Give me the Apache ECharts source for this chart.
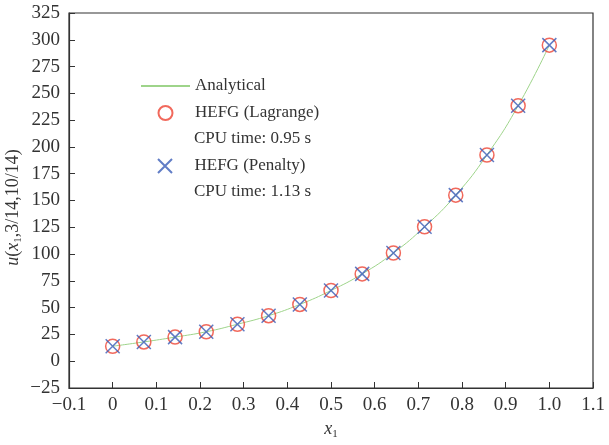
<!DOCTYPE html>
<html>
<head>
<meta charset="utf-8">
<script src="https://cdn.jsdelivr.net/npm/echarts@6/dist/echarts.min.js"></script>
<style>
	html, body { margin: 0; padding: 0; background: #fff; }
	#main { width: 609px; height: 445px; }
</style>
</head>
<body>
<div id="main"></div>
<script>
// x1 sample points (k/14) and u values
const xPoints = [0, 0.0714, 0.1429, 0.2143, 0.2857, 0.3571, 0.4286, 0.5, 0.5714, 0.6429, 0.7143, 0.7857, 0.8571, 0.9286, 1.0]
const analytical = [14, 18, 22.5, 27.5, 34.5, 42.5, 53, 66, 81.5, 101, 125.5, 155, 192.5, 238.5, 295]
const lagrange = [14, 18, 22.5, 27.5, 34.5, 42.5, 53, 66, 81.5, 101, 125.5, 155, 192.5, 238.5, 295]
const penalty = [14, 18, 22.5, 27.5, 34.5, 42.5, 53, 66, 81.5, 101, 125.5, 155, 192.5, 238.5, 295]
const cpuTimes = ['CPU time: 0.95 s', 'CPU time: 1.13 s']

const pairs = ys => xPoints.map((x, i) => [x, ys[i]])
const minus = s => s.replace('-', '\u2212')
const font = 'Liberation Serif'
const crossPath = 'path://M0,0L10,10M10,0L0,10'

const chart = echarts.init(document.getElementById('main'))

const nameRich = {
	i: { fontFamily: font, fontStyle: 'italic', fontSize: 18, color: '#333' },
	s: { fontFamily: font, fontSize: 11, color: '#333', verticalAlign: 'bottom', padding: [10, 0, 0, 0] },
}

const option = {
	animation: false,
	textStyle: { fontFamily: font },
	grid: {
		left: 69, right: 16, top: 13, bottom: 57,
		outerBoundsMode: 'none', containLabel: false,
		show: true, borderColor: '#333', borderWidth: 1.2,
	},
	legend: [
		{
			orient: 'vertical', left: 140, top: 76, padding: 0,
			itemWidth: 49, itemHeight: 14, itemGap: 7,
			textStyle: { fontFamily: font, fontSize: 17, color: '#333', lineHeight: 20 },
			data: [
				{ name: 'Analytical', itemStyle: { color: 'rgba(0,0,0,0)', borderWidth: 0 } },
				'HEFG (Lagrange)',
			],
		},
		{
			orient: 'vertical', left: 157, top: 156, padding: 0,
			itemWidth: 49, itemHeight: 14,
			textStyle: { fontFamily: font, fontSize: 17, color: '#333', lineHeight: 20 },
			data: ['HEFG (Penalty)'],
		},
	],
	graphic: cpuTimes.map((t, i) => ({
		type: 'text', left: 194, top: [130, 183][i],
		style: { text: t, font: '17px "Liberation Serif"', fill: '#333' },
	})),
	xAxis: {
		type: 'value', min: -0.1, max: 1.1, interval: 0.1,
		name: '{i|x}{s|1}', nameLocation: 'middle', nameGap: 30,
		nameTextStyle: { rich: nameRich },
		axisLine: { onZero: false, lineStyle: { color: '#333', width: 1.2 } },
		axisTick: { inside: true, length: 6, lineStyle: { color: '#333' } },
		splitLine: { show: false },
		axisLabel: {
			fontFamily: font, fontSize: 19, color: '#333', margin: 8,
			formatter: v => Math.abs(v) < 1e-9 ? '0' : minus(v.toFixed(1)),
		},
	},
	yAxis: {
		type: 'value', min: -25, max: 325, interval: 25,
		name: '{i|u}{n|(}{i|x}{s|1}{n|,3/14,10/14)}', nameLocation: 'middle', nameGap: 45,
		nameMoveOverlap: false,
		nameTextStyle: {
			padding: [0, 14, 0, 0],
			rich: Object.assign({ n: { fontFamily: font, fontSize: 18, color: '#333' } }, nameRich),
		},
		axisLine: { onZero: false, lineStyle: { color: '#333', width: 1.2 } },
		axisTick: { inside: true, length: 6, lineStyle: { color: '#333' } },
		splitLine: { show: false },
		axisLabel: {
			fontFamily: font, fontSize: 19, color: '#333', margin: 9,
			formatter: v => minus(String(v)),
		},
	},
	series: [
		{
			name: 'Analytical', type: 'line', smooth: true, symbol: 'none',
			data: pairs(analytical),
			lineStyle: { color: '#9ed48a', width: 1 },
			itemStyle: { color: '#9ed48a' },
			z: 1,
		},
		{
			name: 'HEFG (Lagrange)', type: 'scatter', symbol: 'circle', symbolSize: 14,
			data: pairs(lagrange),
			itemStyle: { color: 'rgba(0,0,0,0)', borderColor: '#ee4433', borderWidth: 1.5 },
			z: 2,
		},
		{
			name: 'HEFG (Penalty)', type: 'scatter', symbol: crossPath, symbolSize: 14,
			data: pairs(penalty),
			itemStyle: { color: 'rgba(0,0,0,0)', borderColor: '#3a5cb8', borderWidth: 1.5 },
			z: 3,
		},
	],
}

chart.setOption(option)
</script>
</body>
</html>
